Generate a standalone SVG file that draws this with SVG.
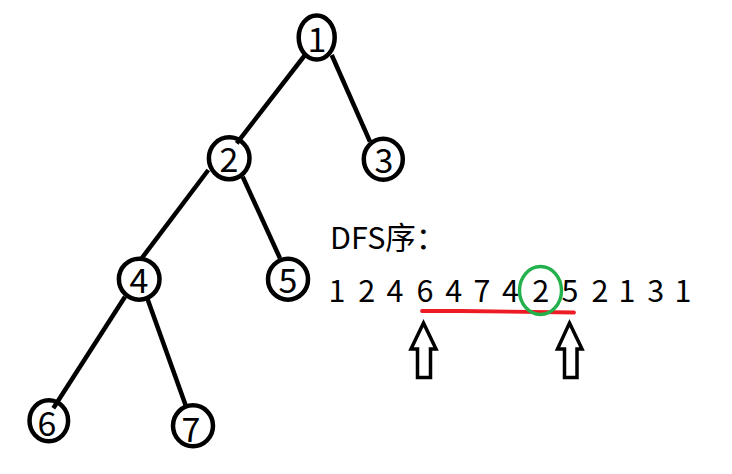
<svg xmlns="http://www.w3.org/2000/svg" width="732" height="474" viewBox="0 0 732 474">
<style>
.node ellipse{fill:#fff;stroke:#000;stroke-width:4.5}
.node text{font-family:"Noto Sans CJK SC","Noto Sans",sans-serif;font-size:34px;text-anchor:middle;fill:#000}
.edge{stroke:#000;stroke-width:4.5;stroke-linecap:butt}
.lbl{font-family:"Noto Sans CJK SC","Noto Sans",sans-serif;font-size:30.5px;fill:#000}
.arrow{fill:#fff;stroke:#000;stroke-width:3.5;stroke-linejoin:miter}
</style>
<rect width="732" height="474" fill="#fff"/>
<g id="node1" class="node"><ellipse cx="316.7" cy="37.5" rx="18" ry="22"/><text x="317" y="52">1</text></g>
<g id="node2" class="node"><ellipse cx="229.2" cy="158.3" rx="20.3" ry="21"/><text x="229" y="172">2</text></g>
<g id="node3" class="node"><ellipse cx="383.3" cy="159.2" rx="19.5" ry="20.5"/><text x="384" y="173">3</text></g>
<g id="node4" class="node"><ellipse cx="139.2" cy="279.2" rx="20.3" ry="20.5"/><text x="139" y="293">4</text></g>
<g id="node5" class="node"><ellipse cx="288" cy="279.2" rx="20" ry="20.5"/><text x="288" y="293">5</text></g>
<g id="node6" class="node"><ellipse cx="48.8" cy="420.8" rx="19.3" ry="20.5"/><text x="47" y="436">6</text></g>
<g id="node7" class="node"><ellipse cx="193" cy="425.8" rx="20" ry="20.5"/><text x="191" y="442">7</text></g>
<g id="connectors">
<line class="edge" x1="305" y1="55" x2="236.7" y2="143.3"/>
<line class="edge" x1="331.7" y1="55" x2="370" y2="141.7"/>
<line class="edge" x1="208.3" y1="170" x2="141.7" y2="258.3"/>
<line class="edge" x1="242.7" y1="176.7" x2="280" y2="258.3"/>
<line class="edge" x1="125" y1="296.7" x2="53.3" y2="408.3"/>
<line class="edge" x1="146.7" y1="296.7" x2="186.7" y2="408.3"/>
</g>
<g id="dfs">
<text class="lbl" x="330" y="248.5">DFS序：</text>
<text class="lbl" text-anchor="middle" y="301.5" x="337 352 366.7 381 395 410 425 439 453.8 468 482 496 510.5 525 540.8 555 570 585 600 614 627 641 655.8 670 683">1 2 4 6 4 7 4 2 5 2 1 3 1</text>
<polyline points="422,311 461,311 574,312.5" fill="none" stroke="#ed1c24" stroke-width="3.8" stroke-linecap="round"/>
<ellipse cx="540.5" cy="290.5" rx="21" ry="24" fill="none" stroke="#22b14c" stroke-width="3.4"/>
<polygon class="arrow" points="423.5,323 436,349 430.5,349 430.5,377.5 417.5,377.5 417.5,349 411,349"/>
<polygon class="arrow" points="569.5,323 582,349 577,349 577,377.5 564.5,377.5 564.5,349 557.5,349"/>
</g>
</svg>
